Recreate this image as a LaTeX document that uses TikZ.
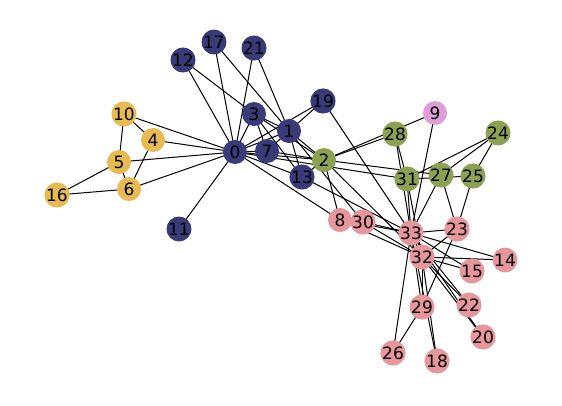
\documentclass[tikz,border=0pt]{standalone}
\usepackage{fontspec}
\setmainfont{DejaVu Sans}
\usetikzlibrary{backgrounds}

\definecolor{clubA}{HTML}{393B79}
\definecolor{clubB}{HTML}{E7BA52}
\definecolor{clubC}{HTML}{8CA252}
\definecolor{clubD}{HTML}{E7969C}
\definecolor{clubE}{HTML}{DE9ED6}

\tikzset{
  vtx/.style={circle, minimum size=24pt, inner sep=0pt, font=\fontsize{17}{17}\selectfont},
  link/.style={black, line width=1pt}
}

\begin{document}
\begin{tikzpicture}[x=1pt, y=-1pt]
  \useasboundingbox (0,0) rectangle (562,405);

  % Blue group
  \node[vtx, fill=clubA] (n0) at (235,152) {0};
  \node[vtx, fill=clubA] (n1) at (289,131) {1};
  \node[vtx, fill=clubA] (n3) at (254,114) {3};
  \node[vtx, fill=clubA] (n7) at (267,151) {7};
  \node[vtx, fill=clubA] (n11) at (179,229) {11};
  \node[vtx, fill=clubA] (n12) at (183,60) {12};
  \node[vtx, fill=clubA] (n13) at (302,177) {13};
  \node[vtx, fill=clubA] (n17) at (214,42) {17};
  \node[vtx, fill=clubA] (n19) at (323,101) {19};
  \node[vtx, fill=clubA] (n21) at (254,48) {21};

  % Yellow group
  \node[vtx, fill=clubB] (n4) at (153,140) {4};
  \node[vtx, fill=clubB] (n5) at (119,162) {5};
  \node[vtx, fill=clubB] (n6) at (129,189) {6};
  \node[vtx, fill=clubB] (n10) at (124,114) {10};
  \node[vtx, fill=clubB] (n16) at (57,195) {16};

  % Green group
  \node[vtx, fill=clubC] (n2) at (324,160) {2};
  \node[vtx, fill=clubC] (n24) at (498,133) {24};
  \node[vtx, fill=clubC] (n25) at (473,176) {25};
  \node[vtx, fill=clubC] (n27) at (441,175) {27};
  \node[vtx, fill=clubC] (n28) at (395,134) {28};
  \node[vtx, fill=clubC] (n31) at (407,179) {31};

  % Purple
  \node[vtx, fill=clubE] (n9) at (435,113) {9};

  % Pink group
  \node[vtx, fill=clubD] (n8) at (340,220) {8};
  \node[vtx, fill=clubD] (n14) at (505,260) {14};
  \node[vtx, fill=clubD] (n15) at (472,271) {15};
  \node[vtx, fill=clubD] (n18) at (437,361) {18};
  \node[vtx, fill=clubD] (n20) at (483,337) {20};
  \node[vtx, fill=clubD] (n22) at (469,305) {22};
  \node[vtx, fill=clubD] (n23) at (457,229) {23};
  \node[vtx, fill=clubD] (n26) at (393,353) {26};
  \node[vtx, fill=clubD] (n29) at (422,307) {29};
  \node[vtx, fill=clubD] (n30) at (363,222) {30};
  \node[vtx, fill=clubD] (n32) at (422,257) {32};
  \node[vtx, fill=clubD] (n33) at (411,233) {33};

  % Edges behind the nodes
  \begin{pgfonlayer}{background}
    \foreach \a/\b in {0/1,0/2,0/3,0/4,0/5,0/6,0/7,0/8,0/10,0/11,0/12,0/13,0/17,0/19,0/21,0/31,
      1/2,1/3,1/7,1/13,1/17,1/19,1/21,1/30,
      2/3,2/7,2/8,2/9,2/13,2/27,2/28,2/32,
      3/7,3/12,3/13,4/6,4/10,5/6,5/10,5/16,6/16,
      8/30,8/32,8/33,9/33,13/33,14/32,14/33,15/32,15/33,18/32,18/33,19/33,
      20/32,20/33,22/32,22/33,23/25,23/27,23/29,23/32,23/33,
      24/25,24/27,24/31,25/31,26/29,26/33,27/33,28/31,28/33,
      29/32,29/33,30/32,30/33,31/32,31/33,32/33}
      \draw[link] (n\a.center) -- (n\b.center);
  \end{pgfonlayer}
\end{tikzpicture}
\end{document}
